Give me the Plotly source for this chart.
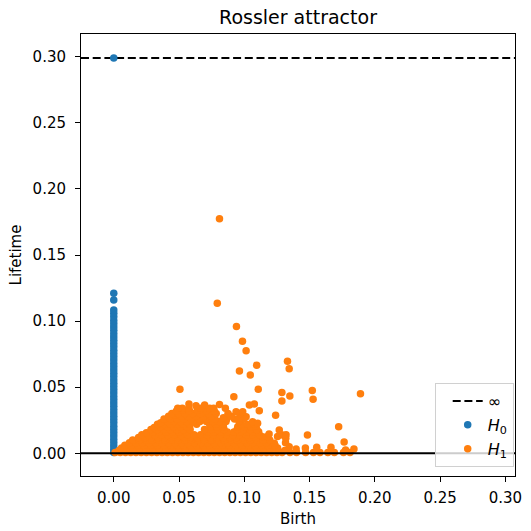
import plotly.graph_objects as go

# ---------------- data ----------------
title_text = "Rossler attractor"
x_label = "Birth"
y_label = "Lifetime"

tick_vals = [0.00, 0.05, 0.10, 0.15, 0.20, 0.25, 0.30]
tick_text = ["0.00", "0.05", "0.10", "0.15", "0.20", "0.25", "0.30"]

inf_level = 0.299

x_range = [-0.0251, 0.3074]
y_range = [-0.0172, 0.3172]

# H0 : birth always 0; the last lifetime is the infinite class drawn on the inf line
h0_life = [0.0005, 0.003, 0.0055, 0.008, 0.0105, 0.013, 0.0155, 0.018, 0.0205, 0.023,
           0.0255, 0.028, 0.0305, 0.033, 0.0355, 0.038, 0.0405, 0.043, 0.0455, 0.048,
           0.0505, 0.053, 0.0555, 0.058, 0.0605, 0.063, 0.0655, 0.068, 0.0705, 0.073,
           0.0755, 0.078, 0.0805, 0.083, 0.0855, 0.088, 0.0905, 0.093, 0.0955, 0.098,
           0.1005, 0.1033, 0.106, 0.1084, 0.116, 0.121, 0.299]
h0_birth = [0.0] * len(h0_life)

# H1 : (birth, lifetime) points, band by band
h1_points = [
    # lifetime ~0.0005
    (0.001, 0.0005), (0.005, 0.0005), (0.009, 0.0005), (0.013, 0.0005), (0.017, 0.0005),
    (0.021, 0.0005), (0.025, 0.0005), (0.029, 0.0005), (0.033, 0.0005), (0.037, 0.0005),
    (0.041, 0.0005), (0.045, 0.0005), (0.049, 0.0005), (0.053, 0.0005), (0.057, 0.0005),
    (0.061, 0.0005), (0.065, 0.0005), (0.069, 0.0005), (0.073, 0.0005), (0.077, 0.0005),
    (0.081, 0.0005), (0.085, 0.0005), (0.089, 0.0005), (0.093, 0.0005), (0.097, 0.0005),
    (0.101, 0.0005), (0.105, 0.0005), (0.109, 0.0005), (0.113, 0.0005), (0.117, 0.0005),
    (0.121, 0.0005), (0.125, 0.0005), (0.129, 0.0005), (0.135, 0.0005), (0.140, 0.0005),
    (0.147, 0.0005), (0.153, 0.0005), (0.158, 0.0005), (0.164, 0.0005), (0.169, 0.0005),
    (0.176, 0.0005), (0.181, 0.0005),
    # lifetime ~0.002
    (0.004, 0.002), (0.009, 0.002), (0.014, 0.002), (0.019, 0.002), (0.024, 0.002),
    (0.029, 0.002), (0.034, 0.002), (0.039, 0.002), (0.044, 0.002), (0.049, 0.002),
    (0.054, 0.002), (0.059, 0.002), (0.064, 0.002), (0.069, 0.002), (0.074, 0.002),
    (0.079, 0.002), (0.084, 0.002), (0.089, 0.002), (0.094, 0.002), (0.099, 0.002),
    (0.104, 0.002), (0.109, 0.002), (0.114, 0.002), (0.119, 0.002), (0.124, 0.002),
    (0.131, 0.002),
    # lifetime ~0.004
    (0.006, 0.004), (0.010, 0.004), (0.015, 0.004), (0.020, 0.004), (0.025, 0.004),
    (0.030, 0.004), (0.035, 0.004), (0.040, 0.004), (0.045, 0.004), (0.050, 0.004),
    (0.055, 0.004), (0.060, 0.004), (0.065, 0.004), (0.070, 0.004), (0.075, 0.004),
    (0.080, 0.004), (0.085, 0.004), (0.090, 0.004), (0.095, 0.004), (0.100, 0.004),
    (0.105, 0.004), (0.110, 0.004), (0.115, 0.004), (0.120, 0.004), (0.1255, 0.004),
    (0.1344, 0.005), (0.1397, 0.0033), (0.1468, 0.004), (0.1555, 0.0045),
    (0.1664, 0.0045), (0.1776, 0.0025), (0.184, 0.0033),
    # lifetime ~0.006
    (0.0085, 0.006), (0.0135, 0.006), (0.0185, 0.006), (0.0235, 0.006), (0.0285, 0.006),
    (0.0335, 0.006), (0.0385, 0.006), (0.0435, 0.006), (0.0485, 0.006), (0.0535, 0.006),
    (0.0585, 0.006), (0.0635, 0.006), (0.0685, 0.006), (0.0735, 0.006), (0.0785, 0.006),
    (0.0835, 0.006), (0.0885, 0.006), (0.0935, 0.006), (0.0985, 0.006), (0.1035, 0.006),
    (0.1085, 0.006), (0.1135, 0.006), (0.1185, 0.006), (0.1235, 0.006),
    # lifetime ~0.008
    (0.012, 0.008), (0.017, 0.008), (0.022, 0.008), (0.027, 0.008), (0.032, 0.008),
    (0.037, 0.008), (0.042, 0.008), (0.047, 0.008), (0.052, 0.008), (0.057, 0.008),
    (0.062, 0.008), (0.067, 0.008), (0.072, 0.008), (0.077, 0.008), (0.082, 0.008),
    (0.087, 0.008), (0.092, 0.008), (0.097, 0.008), (0.102, 0.008), (0.107, 0.008),
    (0.112, 0.008), (0.117, 0.008), (0.123, 0.0076), (0.1316, 0.008), (0.1765, 0.0085),
    # lifetime ~0.010
    (0.0145, 0.010), (0.0195, 0.010), (0.0245, 0.010), (0.0295, 0.010), (0.0345, 0.010),
    (0.0395, 0.010), (0.0445, 0.010), (0.0495, 0.010), (0.0545, 0.010), (0.0595, 0.010),
    (0.0645, 0.010), (0.0695, 0.010), (0.0745, 0.010), (0.0795, 0.010), (0.0845, 0.010),
    (0.0895, 0.010), (0.0945, 0.010), (0.0995, 0.010), (0.1045, 0.010), (0.1095, 0.010),
    (0.1145, 0.010), (0.1195, 0.010),
    # lifetime ~0.012
    (0.019, 0.012), (0.024, 0.012), (0.029, 0.012), (0.034, 0.012), (0.039, 0.012),
    (0.044, 0.012), (0.049, 0.012), (0.054, 0.012), (0.059, 0.012), (0.064, 0.012),
    (0.069, 0.012), (0.074, 0.012), (0.079, 0.012), (0.084, 0.012), (0.089, 0.012),
    (0.094, 0.012), (0.099, 0.012), (0.104, 0.012), (0.109, 0.012), (0.114, 0.0125),
    (0.1178, 0.0126), (0.1255, 0.0126), (0.1293, 0.0138), (0.1318, 0.0113),
    (0.1484, 0.0138), (0.119, 0.0146), (0.132, 0.0141),
    # lifetime ~0.014
    (0.0215, 0.014), (0.0265, 0.014), (0.0315, 0.014), (0.0365, 0.014), (0.0415, 0.014),
    (0.0465, 0.014), (0.0515, 0.014), (0.0565, 0.014), (0.0615, 0.014), (0.0665, 0.014),
    (0.0715, 0.014), (0.0765, 0.014), (0.0815, 0.014), (0.0865, 0.014), (0.0915, 0.014),
    (0.0965, 0.014), (0.1015, 0.014), (0.1065, 0.014), (0.1115, 0.014),
    # lifetime ~0.016
    (0.025, 0.0155), (0.030, 0.016), (0.035, 0.016), (0.040, 0.016), (0.045, 0.016),
    (0.050, 0.016), (0.055, 0.016), (0.072, 0.016), (0.077, 0.016), (0.082, 0.016),
    (0.087, 0.016), (0.092, 0.016), (0.097, 0.016), (0.102, 0.016), (0.107, 0.016),
    (0.111, 0.0163), (0.1268, 0.0176), (0.1723, 0.0201),
    # lifetime ~0.018
    (0.0285, 0.018), (0.0335, 0.018), (0.0385, 0.018), (0.0435, 0.018), (0.0485, 0.018),
    (0.0535, 0.018), (0.0585, 0.018), (0.0695, 0.018), (0.0745, 0.018), (0.0795, 0.018),
    (0.0845, 0.018), (0.0945, 0.018), (0.0995, 0.018), (0.1045, 0.018), (0.1095, 0.018),
    # lifetime ~0.020
    (0.031, 0.0195), (0.036, 0.020), (0.041, 0.020), (0.046, 0.020), (0.051, 0.020),
    (0.056, 0.020), (0.074, 0.020), (0.079, 0.020), (0.084, 0.020), (0.095, 0.020),
    (0.100, 0.020), (0.105, 0.020), (0.109, 0.0205),
    # lifetime ~0.022
    (0.0335, 0.022), (0.0385, 0.022), (0.0435, 0.022), (0.0485, 0.022), (0.0535, 0.022),
    (0.0585, 0.022), (0.0635, 0.022), (0.0735, 0.022), (0.0785, 0.022), (0.0835, 0.022),
    (0.0975, 0.022), (0.1025, 0.022), (0.1075, 0.022),
    # lifetime ~0.024
    (0.036, 0.023), (0.041, 0.024), (0.046, 0.024), (0.051, 0.024), (0.056, 0.024),
    (0.061, 0.024), (0.066, 0.024), (0.071, 0.024), (0.076, 0.024), (0.081, 0.024),
    (0.086, 0.024), (0.096, 0.024), (0.1014, 0.0277), (0.1064, 0.0239), (0.1102, 0.0227),
    # lifetime ~0.026
    (0.0385, 0.026), (0.0435, 0.026), (0.0485, 0.026), (0.0535, 0.026), (0.0595, 0.026),
    (0.0655, 0.026), (0.0715, 0.026), (0.0775, 0.026), (0.0865, 0.026), (0.0925, 0.026),
    (0.0995, 0.026),
    # lifetime ~0.028
    (0.042, 0.028), (0.047, 0.029), (0.052, 0.028), (0.057, 0.028), (0.063, 0.028),
    (0.069, 0.028), (0.075, 0.028), (0.090, 0.028), (0.0963, 0.0265), (0.084, 0.0269),
    # lifetime ~0.030
    (0.0445, 0.030), (0.0495, 0.030), (0.0545, 0.030), (0.0605, 0.030), (0.0665, 0.030),
    (0.0725, 0.030), (0.0785, 0.030), (0.0875, 0.030), (0.0965, 0.030),
    # lifetime ~0.032
    (0.048, 0.032), (0.053, 0.0325), (0.058, 0.032), (0.064, 0.0325), (0.071, 0.032),
    (0.077, 0.032), (0.0937, 0.0315), (0.0988, 0.0315), (0.1115, 0.0322),
    # lifetime ~0.034
    (0.0525, 0.034), (0.0575, 0.034), (0.0665, 0.034), (0.0735, 0.034), (0.0765, 0.034),
    (0.0855, 0.034),
    # lifetime ~0.036
    (0.049, 0.034), (0.0576, 0.0373), (0.063, 0.036), (0.0696, 0.0365), (0.081, 0.0368),
    (0.1039, 0.0365), (0.1077, 0.0373),
    # isolated points
    (0.081, 0.1775), (0.0793, 0.1135), (0.094, 0.096), (0.0986, 0.0847), (0.1014, 0.0776),
    (0.1095, 0.0666), (0.0963, 0.0623), (0.1046, 0.0592), (0.1331, 0.0696), (0.1344, 0.064),
    (0.1107, 0.0484), (0.1288, 0.046), (0.1288, 0.0396), (0.1349, 0.0433), (0.1521, 0.0474),
    (0.1527, 0.0408), (0.189, 0.045), (0.124, 0.0287), (0.0507, 0.0485), (0.092, 0.0428),
]
h1_birth = [p[0] for p in h1_points]
h1_life = [p[1] for p in h1_points]

# ---------------- figure ----------------
BLUE = "#1f77b4"
ORANGE = "#ff7f0e"
FONT = "DejaVu Sans"

fig = go.Figure()

fig.add_trace(go.Scatter(
    x=x_range, y=[inf_level, inf_level], mode="lines",
    line=dict(color="black", width=2, dash="8px,3.7px"),
    name="\u221e", showlegend=True, hoverinfo="skip",
))
fig.add_trace(go.Scatter(
    x=h0_birth, y=h0_life, mode="markers",
    marker=dict(color=BLUE, size=7.5, line=dict(width=0)),
    name="<i>H</i><sub>0</sub>",
))
fig.add_trace(go.Scatter(
    x=h1_birth, y=h1_life, mode="markers",
    marker=dict(color=ORANGE, size=7.5, line=dict(width=0)),
    name="<i>H</i><sub>1</sub>",
))
fig.add_trace(go.Scatter(
    x=x_range, y=[0, 0], mode="lines",
    line=dict(color="black", width=2),
    showlegend=False, hoverinfo="skip",
))

axis_common = dict(
    showgrid=False, zeroline=False, showline=True, mirror=True,
    linecolor="black", linewidth=1, ticks="outside", ticklen=5,
    tickwidth=1, tickcolor="black", automargin=False,
    tickfont=dict(family=FONT, size=15, color="black"),
    tickvals=tick_vals, ticktext=tick_text,
)

fig.update_layout(
    width=531, height=531,
    margin=dict(l=81, r=16, t=34, b=55, autoexpand=False),
    paper_bgcolor="white", plot_bgcolor="white",
    font=dict(family=FONT, color="black", size=15),
    title=dict(text=title_text, x=0.5, xref="paper", xanchor="center",
               y=1 - 17 / 531, yref="container", yanchor="middle",
               font=dict(family=FONT, size=19, color="black")),
    xaxis=dict(range=x_range, ticklabelstandoff=3,
               title=dict(text=x_label, standoff=7, font=dict(family=FONT, size=15)),
               **axis_common),
    yaxis=dict(range=y_range, ticklabelstandoff=6,
               title=dict(text=y_label, standoff=7, font=dict(family=FONT, size=15)),
               **axis_common),
    legend=dict(x=0.997, y=0.02, xanchor="right", yanchor="bottom",
                bgcolor="rgba(255,255,255,0.8)", bordercolor="#d0d0d0",
                borderwidth=1, font=dict(family=FONT, size=16),
                itemwidth=30, tracegroupgap=0, indentation=12),
    showlegend=True,
)

fig.write_html("out.html")
